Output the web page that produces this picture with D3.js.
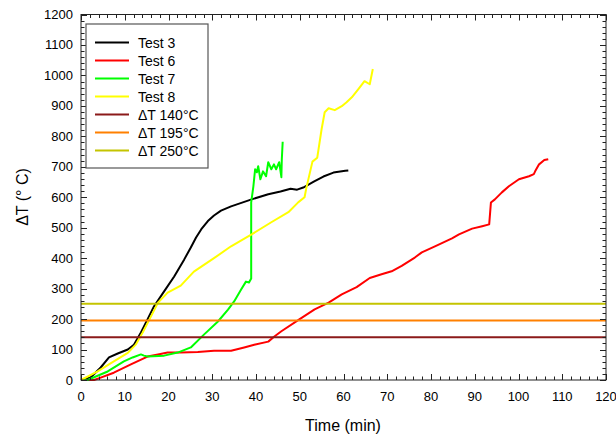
<!DOCTYPE html>
<html><head><meta charset="utf-8">
<script src="https://cdn.jsdelivr.net/npm/d3@7"></script>
<style>body{margin:0;background:#fff}svg{display:block}text{font-family:"Liberation Sans",Arial,sans-serif;fill:#000}</style>
</head><body>
<svg id="c" width="616" height="438"></svg>
<script>
// ---- data ----
const test3X = [0,2.2,4.5,6.4,8.4,10.7,12.1,13.7,15.2,16.7,19,21.3,23.6,25.1,26.3,27.5,29,30.4,32,34.3,39,42.8,45.6,47.9,49.4,50.8,53.2,55.4,57.7,60.4,61.1];
const test3Y = [0,8,41,74,87,100,116,156,199,242,291,340,396,435,468,495,522,540,556,570,593,610,619,628,625,632,651,668,681,687,688];
const test6X = [0,3,4.5,7.5,11.4,15.2,17.6,19.8,22.8,26.7,30.4,34.3,37.3,39.6,42.8,44.2,45.8,49.9,53.4,56.6,59.6,63,66,68.7,71,73.3,76.3,77.9,80.9,84.8,86.4,89.4,91.7,93.3,93.7,94.6,96.2,97.8,100.1,102.4,103.5,103.8,104.7,105.9,106.8];
const test6Y = [0,0,8,24,51,77,84,90,90,92,96,96,107,116,126,143,160,199,232,254,281,305,335,347,357,375,402,419,439,465,478,497,505,511,583,593,616,636,659,669,676,685,708,722,725];
const test7X = [0,1.5,6.1,9.8,11.8,13.7,14.4,15.2,19,22.1,25.1,28.1,31.3,33.6,35,36.6,37.7,38.4,38.9,38.9,39.4,39.8,40.2,40.5,41,41.6,42.3,42.8,43.5,44.1,44.6,45.3,45.8,45.9,46.1];
const test7Y = [0,0,28,61,74,84,80,77,80,90,107,149,192,231,258,297,323,320,333,583,636,692,682,702,659,685,669,715,692,708,692,715,666,725,782];
const test8X = [0,3.8,7.5,10.7,12.5,14.1,16,17.6,19.8,22.8,25.8,30.4,34.3,39,43.5,47.4,49.7,51.1,51.5,52.9,54,55,55.7,56.6,58,59.6,60.7,61.9,63.4,64.8,66,66.7];
const test8Y = [0,28,61,89,116,156,209,254,287,310,356,400,439,478,518,551,584,600,630,717,730,824,879,892,886,899,912,928,955,981,971,1021];
const seriesNames = ["Test 3","Test 6","Test 7","Test 8"];
const thresholdNames = ["\u0394T 140\u00B0C","\u0394T 195\u00B0C","\u0394T 250\u00B0C"];
const thresholdValues = [140,195,250];
const xTicks = [0,10,20,30,40,50,60,70,80,90,100,110,120];
const yTicks = [0,100,200,300,400,500,600,700,800,900,1000,1100,1200];

// ---- chart ----
const svg = d3.select("#c");
const L = 81, R = 606, T = 14.5, B = 380;
const x = d3.scaleLinear().domain([0,120]).range([L,R]);
const y = d3.scaleLinear().domain([0,1200]).range([B,T]);

const series = [
  {name:seriesNames[0], xs:test3X, ys:test3Y, color:"#000000"},
  {name:seriesNames[1], xs:test6X, ys:test6Y, color:"#ff0000"},
  {name:seriesNames[2], xs:test7X, ys:test7Y, color:"#00ff00"},
  {name:seriesNames[3], xs:test8X, ys:test8Y, color:"#ffff00"}
];
const thresholds = thresholdValues.map((v,i)=>({name:thresholdNames[i], v, color:["#8b1a1a","#ff8000","#c4c400"][i]}));

const line = d3.line().x(d=>x(d[0])).y(d=>y(d[1]));
const gData = svg.append("g");
series.forEach(s=>{
  gData.append("path").attr("d", line(s.xs.map((v,i)=>[v,s.ys[i]])))
    .attr("fill","none").attr("stroke",s.color).attr("stroke-width",2).attr("stroke-linejoin","round");
});
thresholds.forEach(t=>{
  gData.append("line").attr("x1",x(0)).attr("x2",x(120)).attr("y1",y(t.v)).attr("y2",y(t.v))
    .attr("stroke",t.color).attr("stroke-width",2);
});

// frame
svg.append("rect").attr("x",L).attr("y",T).attr("width",R-L).attr("height",B-T)
  .attr("fill","none").attr("stroke","#222").attr("stroke-width",1);

// ticks (inward, all four sides)
const xMinor = d3.range(0,121,2), yMinor = d3.range(0,1201,20);
const tg = svg.append("g").attr("stroke","#222").attr("stroke-width",1);
xMinor.forEach(v=>{
  const len = v%10===0 ? 6 : 3.5;
  const px = Math.round(x(v))+0.5;
  tg.append("line").attr("x1",px).attr("x2",px).attr("y1",B).attr("y2",B-len);
  tg.append("line").attr("x1",px).attr("x2",px).attr("y1",T).attr("y2",T+len);
});
yMinor.forEach(v=>{
  const len = v%100===0 ? 6 : 3.5;
  const py = Math.round(y(v))+0.5;
  tg.append("line").attr("x1",L).attr("x2",L+len).attr("y1",py).attr("y2",py);
  tg.append("line").attr("x1",R).attr("x2",R-len).attr("y1",py).attr("y2",py);
});

// tick labels
svg.append("g").selectAll("text").data(xTicks).join("text")
  .attr("x",d=>x(d)).attr("y",401).attr("text-anchor","middle").attr("font-size",13).text(d=>d);
svg.append("g").selectAll("text").data(yTicks).join("text")
  .attr("x",73).attr("y",d=>y(d)+4.5).attr("text-anchor","end").attr("font-size",13).text(d=>d);

// axis titles
svg.append("text").attr("x",343).attr("y",431).attr("text-anchor","middle").attr("font-size",16).text("Time (min)");
svg.append("text").attr("transform","translate(28,197) rotate(-90)").attr("text-anchor","middle").attr("font-size",16).text("\u0394T (\u00B0 C)");

// legend
const lg = svg.append("g");
lg.append("rect").attr("x",86).attr("y",24).attr("width",122).attr("height",144)
  .attr("fill","#fff").attr("stroke","#555").attr("stroke-width",1.2);
const items = series.map(s=>({name:s.name,color:s.color})).concat(thresholds.map(t=>({name:t.name,color:t.color})));
items.forEach((it,i)=>{
  const yy = 42.5 + i*18;
  lg.append("line").attr("x1",95).attr("x2",129).attr("y1",yy).attr("y2",yy).attr("stroke",it.color).attr("stroke-width",2);
  lg.append("text").attr("x",138).attr("y",yy+5).attr("font-size",14).text(it.name);
});
</script>
</body></html>
